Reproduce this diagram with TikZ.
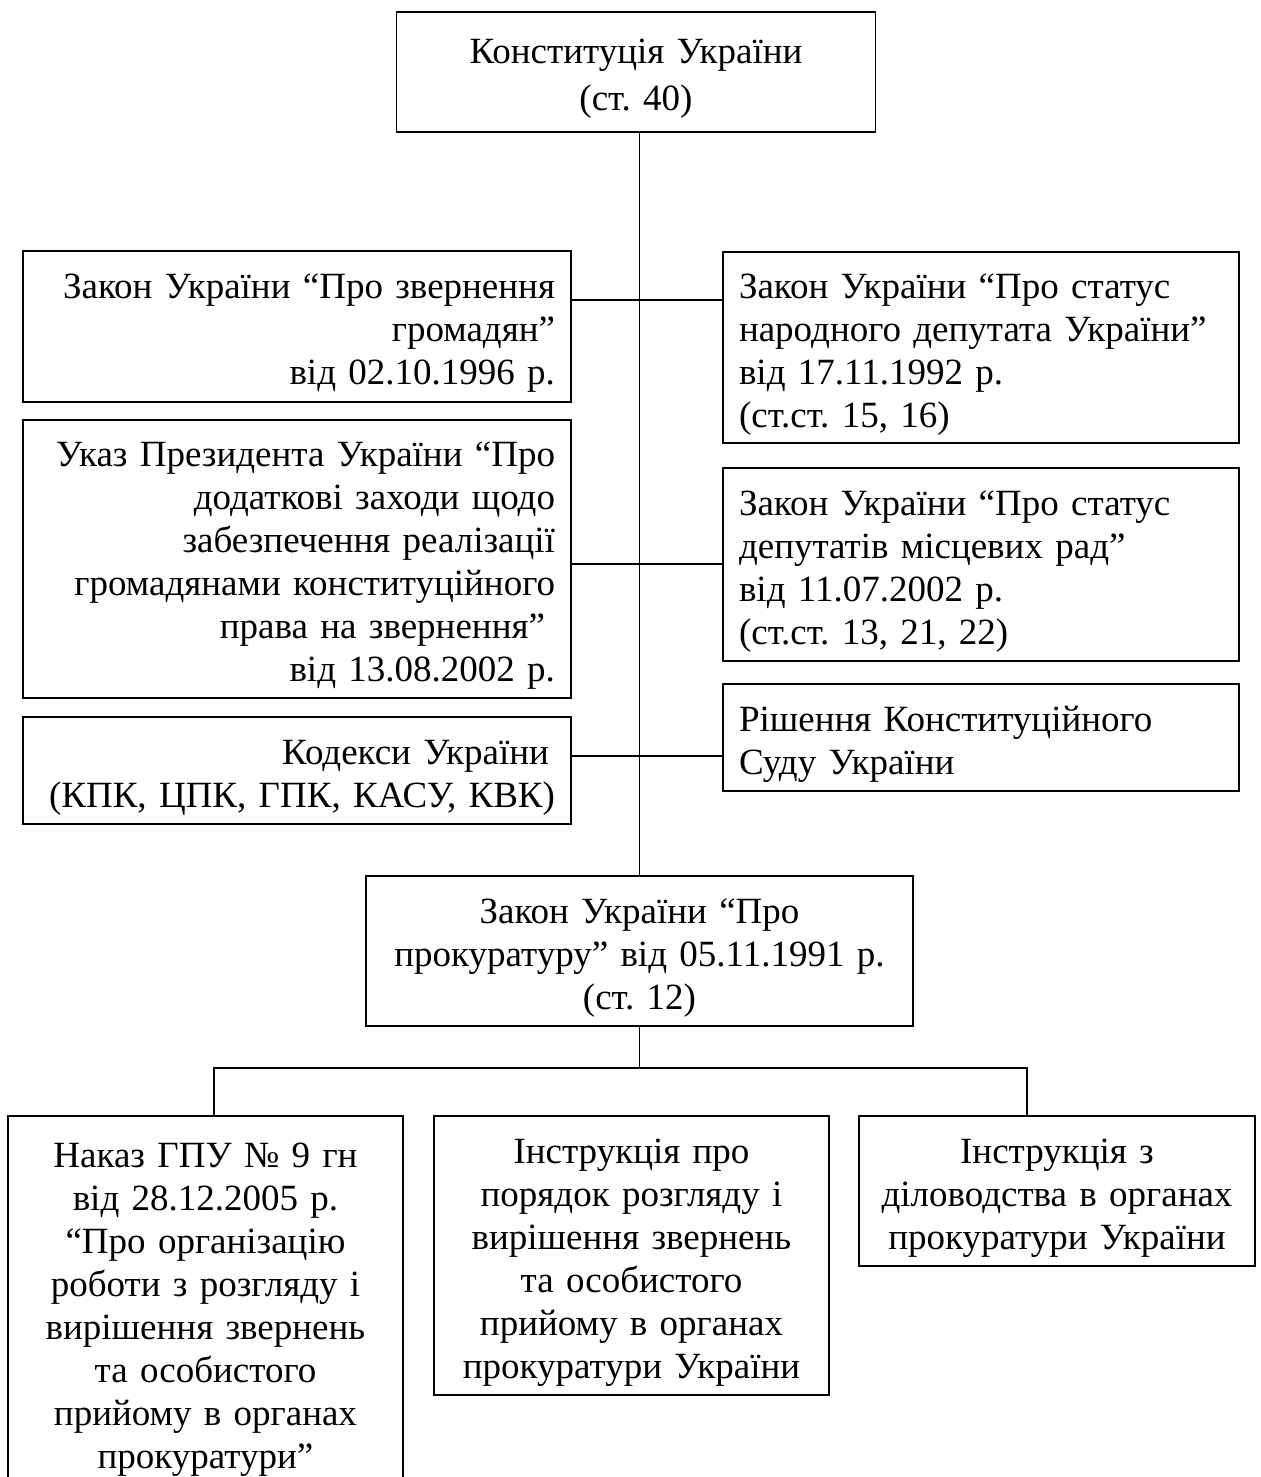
\documentclass[tikz,border=0pt]{standalone}
\usepackage{fontspec}
\setmainfont{Liberation Serif}
\frenchspacing

\begin{document}
\begin{tikzpicture}[
  x=0.5pt, y=-0.5pt,
  box/.style={rectangle, draw, line width=0.8pt, inner xsep=8pt, inner ysep=0pt,
              font=\fontsize{18.5}{21.5}\selectfont,
              execute at begin node=\rule{0pt}{19pt}},
  lbox/.style={box, align=right, text width=258pt, minimum height=#1},
  rbox/.style={box, align=left, text width=242pt, minimum height=#1},
  cbox/.style={box, align=center, text width=#1},
  link/.style={line width=0.7pt}
]
  \useasboundingbox (0,0) rectangle (1261,1477);
  \clip (0,0) rectangle (1261,1477);

  % Top and middle boxes
  \node[cbox=223.5pt, minimum height=60pt] (konst) at (636,72)
    {Конституція України\\[2pt](ст. 40)};
  \node[cbox=257.5pt, minimum height=75pt] (prok) at (639.5,951)
    {Закон України “Про\\прокуратуру” від 05.11.1991 р.\\(ст. 12)};

  % Left column
  \node[lbox=75.5pt] (zakzv) at (297,326.5)
    {Закон України “Про звернення\\громадян”\\від 02.10.1996 р.};
  \node[lbox=139pt] (ukaz) at (297,559)
    {Указ Президента України “Про\\додаткові заходи щодо\\забезпечення реалізації\\громадянами конституційного\\права на звернення”\kern5pt\\від 13.08.2002 р.};
  \node[lbox=53.5pt] (kodeks) at (297,770.5)
    {Кодекси України\kern3pt\\(КПК, ЦПК, ГПК, КАСУ, КВК)};

  % Right column
  \node[rbox=95.5pt] (stnd) at (981,347.5)
    {Закон України “Про статус\\народного депутата України”\\від 17.11.1992 р.\\(ст.ст. 15, 16)};
  \node[rbox=96.5pt] (stmr) at (981,564.5)
    {Закон України “Про статус\\депутатів місцевих рад”\\від 11.07.2002 р.\\(ст.ст. 13, 21, 22)};
  \node[rbox=53.5pt] (rishennya) at (981,737.5)
    {Рішення Конституційного\\Суду України};

  % Bottom row
  \node[cbox=181.5pt, minimum height=187pt] (nakaz) at (205.5,1303)
    {Наказ ГПУ № 9 гн\\від 28.12.2005 р.\\“Про організацію\\роботи з розгляду і\\вирішення звернень\\та особистого\\прийому в органах\\прокуратури”};
  \node[cbox=181.5pt, minimum height=139.5pt] (instr1) at (631.5,1255.5)
    {Інструкція про\\порядок розгляду і\\вирішення звернень\\та особистого\\прийому в органах\\прокуратури України};
  \node[cbox=182pt, minimum height=75pt] (instr2) at (1057,1191)
    {Інструкція з\\діловодства в органах\\прокуратури України};

  % Spine
  \draw[line width=0.5pt] (konst.south -| prok.north) -- (prok.north);

  % Side links
  \draw[link] (zakzv.east |- 0,300) -- (stnd.west |- 0,300);
  \draw[link] (ukaz.east |- 0,564) -- (stmr.west |- 0,564);
  \draw[link] (kodeks.east |- 0,756) -- (rishennya.west |- 0,756);

  % Bottom branches
  \coordinate (bus) at (prok.south |- 0,1068);
  \draw[link] (prok.south) -- (bus);
  \draw[link] (nakaz.north -| 214,0) |- (bus) -| (instr2.north -| 1027,0);
\end{tikzpicture}
\end{document}
